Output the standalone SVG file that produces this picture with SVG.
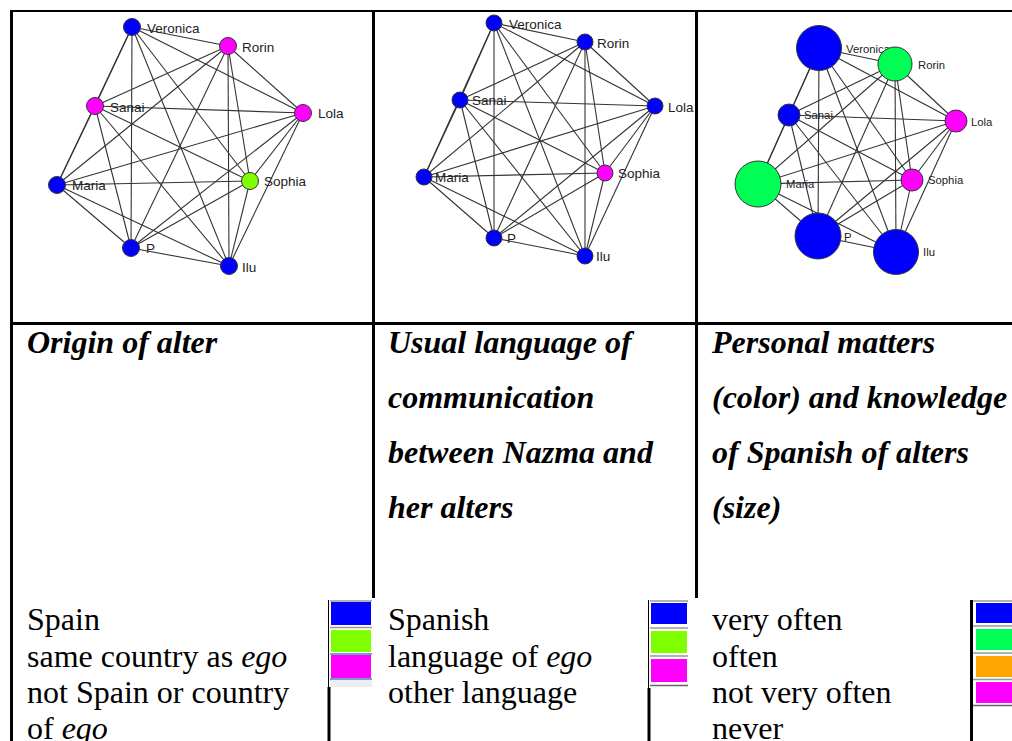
<svg xmlns="http://www.w3.org/2000/svg" width="1012" height="741" viewBox="0 0 1012 741">
<style>
.edge{stroke:#333;stroke-width:1.1;fill:none}
.nd{stroke:#333;stroke-width:1}
.lb{font-family:"Liberation Sans",Arial,sans-serif;font-size:13.5px;fill:#222}
.lb3{font-family:"Liberation Sans",Arial,sans-serif;font-size:11.3px;fill:#222}
.hd{font-family:"Liberation Serif","Times New Roman",serif;font-size:32px;font-weight:bold;font-style:italic;fill:#000}
.lg{font-family:"Liberation Serif","Times New Roman",serif;font-size:32px;fill:#000}
.it{font-style:italic}
.bd{stroke:#000;fill:none}
.sep{stroke:#999;stroke-width:1.5}
.blue{fill:#0000ff}
.mag{fill:#ff00ff}
.lime{fill:#80ff00}
.grn{fill:#00ff55}
.org{fill:#ffa500}
</style>
<rect width="1012" height="741" fill="#fff"/>
<g id="table">
<line class="bd" x1="10" y1="11" x2="1012" y2="11" stroke-width="2"/>
<line class="bd" x1="11.5" y1="10" x2="11.5" y2="741" stroke-width="3"/>
<line class="bd" x1="10" y1="323.5" x2="1012" y2="323.5" stroke-width="3"/>
<line class="bd" x1="373.5" y1="10" x2="373.5" y2="598" stroke-width="3"/>
<line class="bd" x1="696.5" y1="10" x2="696.5" y2="598" stroke-width="3"/>
<line class="bd" x1="329" y1="687" x2="329" y2="741" stroke-width="3"/>
<line class="bd" x1="328.5" y1="600" x2="328.5" y2="687" stroke-width="1"/>
<line class="bd" x1="649" y1="688" x2="649" y2="741" stroke-width="3"/>
<line class="bd" x1="648.5" y1="600" x2="648.5" y2="688" stroke-width="1"/>
<line class="bd" x1="971.5" y1="600" x2="971.5" y2="741" stroke-width="3"/>
</g>
<g id="connectors">
<g id="edges-origin">
<line class="edge" x1="132" y1="27" x2="228" y2="46"/>
<line class="edge" x1="132" y1="27" x2="95" y2="106"/>
<line class="edge" x1="132" y1="27" x2="303" y2="113"/>
<line class="edge" x1="132" y1="27" x2="57" y2="185"/>
<line class="edge" x1="132" y1="27" x2="250" y2="181"/>
<line class="edge" x1="132" y1="27" x2="131" y2="248"/>
<line class="edge" x1="132" y1="27" x2="229" y2="266"/>
<line class="edge" x1="228" y1="46" x2="95" y2="106"/>
<line class="edge" x1="228" y1="46" x2="303" y2="113"/>
<line class="edge" x1="228" y1="46" x2="57" y2="185"/>
<line class="edge" x1="228" y1="46" x2="250" y2="181"/>
<line class="edge" x1="228" y1="46" x2="131" y2="248"/>
<line class="edge" x1="228" y1="46" x2="229" y2="266"/>
<line class="edge" x1="95" y1="106" x2="303" y2="113"/>
<line class="edge" x1="95" y1="106" x2="57" y2="185"/>
<line class="edge" x1="95" y1="106" x2="250" y2="181"/>
<line class="edge" x1="95" y1="106" x2="131" y2="248"/>
<line class="edge" x1="95" y1="106" x2="229" y2="266"/>
<line class="edge" x1="303" y1="113" x2="57" y2="185"/>
<line class="edge" x1="303" y1="113" x2="250" y2="181"/>
<line class="edge" x1="303" y1="113" x2="131" y2="248"/>
<line class="edge" x1="303" y1="113" x2="229" y2="266"/>
<line class="edge" x1="57" y1="185" x2="250" y2="181"/>
<line class="edge" x1="57" y1="185" x2="131" y2="248"/>
<line class="edge" x1="57" y1="185" x2="229" y2="266"/>
<line class="edge" x1="250" y1="181" x2="131" y2="248"/>
<line class="edge" x1="250" y1="181" x2="229" y2="266"/>
<line class="edge" x1="131" y1="248" x2="229" y2="266"/>
</g>
<g id="edges-language">
<line class="edge" x1="494" y1="23" x2="585" y2="42"/>
<line class="edge" x1="494" y1="23" x2="460" y2="100"/>
<line class="edge" x1="494" y1="23" x2="655" y2="106"/>
<line class="edge" x1="494" y1="23" x2="424" y2="177"/>
<line class="edge" x1="494" y1="23" x2="605" y2="173"/>
<line class="edge" x1="494" y1="23" x2="494" y2="238"/>
<line class="edge" x1="494" y1="23" x2="585" y2="256"/>
<line class="edge" x1="585" y1="42" x2="460" y2="100"/>
<line class="edge" x1="585" y1="42" x2="655" y2="106"/>
<line class="edge" x1="585" y1="42" x2="424" y2="177"/>
<line class="edge" x1="585" y1="42" x2="605" y2="173"/>
<line class="edge" x1="585" y1="42" x2="494" y2="238"/>
<line class="edge" x1="585" y1="42" x2="585" y2="256"/>
<line class="edge" x1="460" y1="100" x2="655" y2="106"/>
<line class="edge" x1="460" y1="100" x2="424" y2="177"/>
<line class="edge" x1="460" y1="100" x2="605" y2="173"/>
<line class="edge" x1="460" y1="100" x2="494" y2="238"/>
<line class="edge" x1="460" y1="100" x2="585" y2="256"/>
<line class="edge" x1="655" y1="106" x2="424" y2="177"/>
<line class="edge" x1="655" y1="106" x2="605" y2="173"/>
<line class="edge" x1="655" y1="106" x2="494" y2="238"/>
<line class="edge" x1="655" y1="106" x2="585" y2="256"/>
<line class="edge" x1="424" y1="177" x2="605" y2="173"/>
<line class="edge" x1="424" y1="177" x2="494" y2="238"/>
<line class="edge" x1="424" y1="177" x2="585" y2="256"/>
<line class="edge" x1="605" y1="173" x2="494" y2="238"/>
<line class="edge" x1="605" y1="173" x2="585" y2="256"/>
<line class="edge" x1="494" y1="238" x2="585" y2="256"/>
</g>
<g id="edges-personal">
<line class="edge" x1="819" y1="48" x2="895" y2="64"/>
<line class="edge" x1="819" y1="48" x2="789" y2="115"/>
<line class="edge" x1="819" y1="48" x2="956" y2="121"/>
<line class="edge" x1="819" y1="48" x2="758" y2="184"/>
<line class="edge" x1="819" y1="48" x2="912" y2="180"/>
<line class="edge" x1="819" y1="48" x2="818" y2="236"/>
<line class="edge" x1="819" y1="48" x2="896" y2="252"/>
<line class="edge" x1="895" y1="64" x2="789" y2="115"/>
<line class="edge" x1="895" y1="64" x2="956" y2="121"/>
<line class="edge" x1="895" y1="64" x2="758" y2="184"/>
<line class="edge" x1="895" y1="64" x2="912" y2="180"/>
<line class="edge" x1="895" y1="64" x2="818" y2="236"/>
<line class="edge" x1="895" y1="64" x2="896" y2="252"/>
<line class="edge" x1="789" y1="115" x2="956" y2="121"/>
<line class="edge" x1="789" y1="115" x2="758" y2="184"/>
<line class="edge" x1="789" y1="115" x2="912" y2="180"/>
<line class="edge" x1="789" y1="115" x2="818" y2="236"/>
<line class="edge" x1="789" y1="115" x2="896" y2="252"/>
<line class="edge" x1="956" y1="121" x2="758" y2="184"/>
<line class="edge" x1="956" y1="121" x2="912" y2="180"/>
<line class="edge" x1="956" y1="121" x2="818" y2="236"/>
<line class="edge" x1="956" y1="121" x2="896" y2="252"/>
<line class="edge" x1="758" y1="184" x2="912" y2="180"/>
<line class="edge" x1="758" y1="184" x2="818" y2="236"/>
<line class="edge" x1="758" y1="184" x2="896" y2="252"/>
<line class="edge" x1="912" y1="180" x2="818" y2="236"/>
<line class="edge" x1="912" y1="180" x2="896" y2="252"/>
<line class="edge" x1="818" y1="236" x2="896" y2="252"/>
</g>
</g>
<g id="nodes-origin">
<g id="o-veronica"><circle class="nd blue" cx="132" cy="27" r="8.5"/><text class="lb" x="147" y="33">Veronica</text></g>
<g id="o-rorin"><circle class="nd mag" cx="228" cy="46" r="8.5"/><text class="lb" x="242" y="51.5">Rorin</text></g>
<g id="o-sanai"><circle class="nd mag" cx="95" cy="106" r="8.5"/><text class="lb" x="110" y="111.5">Sanai</text></g>
<g id="o-lola"><circle class="nd mag" cx="303" cy="113" r="8.5"/><text class="lb" x="318" y="118">Lola</text></g>
<g id="o-maria"><circle class="nd blue" cx="57" cy="185" r="8.5"/><text class="lb" x="72" y="190">Maria</text></g>
<g id="o-sophia"><circle class="nd lime" cx="250" cy="181" r="8.5"/><text class="lb" x="264" y="186">Sophia</text></g>
<g id="o-p"><circle class="nd blue" cx="131" cy="248" r="8.5"/><text class="lb" x="146" y="253">P</text></g>
<g id="o-ilu"><circle class="nd blue" cx="229" cy="266" r="8.5"/><text class="lb" x="242" y="271.5">Ilu</text></g>
</g>
<g id="nodes-language">
<g id="l-veronica"><circle class="nd blue" cx="494" cy="23" r="8"/><text class="lb" x="509" y="29">Veronica</text></g>
<g id="l-rorin"><circle class="nd blue" cx="585" cy="42" r="8"/><text class="lb" x="597" y="47.5">Rorin</text></g>
<g id="l-sanai"><circle class="nd blue" cx="460" cy="100" r="8"/><text class="lb" x="472" y="105">Sanai</text></g>
<g id="l-lola"><circle class="nd blue" cx="655" cy="106" r="8"/><text class="lb" x="668" y="111.5">Lola</text></g>
<g id="l-maria"><circle class="nd blue" cx="424" cy="177" r="8"/><text class="lb" x="435" y="182">Maria</text></g>
<g id="l-sophia"><circle class="nd mag" cx="605" cy="173" r="8"/><text class="lb" x="618" y="178">Sophia</text></g>
<g id="l-p"><circle class="nd blue" cx="494" cy="238" r="8"/><text class="lb" x="507" y="243">P</text></g>
<g id="l-ilu"><circle class="nd blue" cx="585" cy="256" r="8"/><text class="lb" x="596" y="261">Ilu</text></g>
</g>
<g id="nodes-personal">
<g id="p-veronica"><circle class="nd blue" cx="819" cy="48" r="22.5"/><text class="lb3" x="846" y="53">Veronica</text></g>
<g id="p-rorin"><circle class="nd grn" cx="895" cy="64" r="17"/><text class="lb3" x="918" y="69">Rorin</text></g>
<g id="p-sanai"><circle class="nd blue" cx="789" cy="115" r="11"/><text class="lb3" x="804" y="119">Sanai</text></g>
<g id="p-lola"><circle class="nd mag" cx="956" cy="121" r="11"/><text class="lb3" x="971" y="126">Lola</text></g>
<g id="p-maria"><circle class="nd grn" cx="758" cy="184" r="23"/><text class="lb3" x="786" y="188">Maria</text></g>
<g id="p-sophia"><circle class="nd mag" cx="912" cy="180" r="11"/><text class="lb3" x="928" y="184">Sophia</text></g>
<g id="p-p"><circle class="nd blue" cx="818" cy="236" r="23"/><text class="lb3" x="844" y="241">P</text></g>
<g id="p-ilu"><circle class="nd blue" cx="896" cy="252" r="22.5"/><text class="lb3" x="923" y="256">Ilu</text></g>
</g>
<g id="headers">
<text class="hd" x="27" y="353">Origin of alter</text>
<text class="hd" x="388" y="353">Usual language of</text>
<text class="hd" x="388" y="408">communication</text>
<text class="hd" x="388" y="463">between Nazma and</text>
<text class="hd" x="388" y="518">her alters</text>
<text class="hd" x="712" y="353">Personal matters</text>
<text class="hd" x="712" y="408">(color) and knowledge</text>
<text class="hd" x="712" y="463">of Spanish of alters</text>
<text class="hd" x="712" y="518">(size)</text>
</g>
<g id="legend-origin">
<text class="lg" x="27" y="630">Spain</text>
<text class="lg" x="27" y="667">same country as <tspan class="it">ego</tspan></text>
<text class="lg" x="27" y="703">not Spain or country</text>
<text class="lg" x="27" y="739">of <tspan class="it">ego</tspan></text>
<line class="sep" x1="330" y1="601" x2="372" y2="601"/>
<rect class="blue" x="331" y="602" width="40" height="23"/>
<line class="sep" x1="330" y1="627.5" x2="372" y2="627.5" stroke="#ccc"/>
<rect class="lime" x="331" y="630" width="40" height="22"/>
<line x1="330" y1="654" x2="372" y2="654" stroke="#4682b4" stroke-width="1.5"/>
<rect class="mag" x="331" y="655" width="40" height="23"/>
<line x1="330" y1="679" x2="372" y2="679" stroke="#4682b4" stroke-width="1.5"/>
<rect x="330" y="680" width="42" height="7" fill="#eee"/>
</g>
<g id="legend-language">
<text class="lg" x="388" y="630">Spanish</text>
<text class="lg" x="388" y="667">language of <tspan class="it">ego</tspan></text>
<text class="lg" x="388" y="703">other language</text>
<line class="sep" x1="650" y1="601" x2="688" y2="601"/>
<rect class="blue" x="651" y="603" width="36" height="21"/>
<line class="sep" x1="650" y1="628" x2="688" y2="628"/>
<rect class="lime" x="651" y="631" width="36" height="22"/>
<line class="sep" x1="650" y1="656" x2="688" y2="656"/>
<rect class="mag" x="651" y="659" width="36" height="23"/>
<line x1="650" y1="685.5" x2="688" y2="685.5" stroke="#666" stroke-width="1.5"/>
</g>
<g id="legend-personal">
<text class="lg" x="712" y="630">very often</text>
<text class="lg" x="712" y="667">often</text>
<text class="lg" x="712" y="703">not very often</text>
<text class="lg" x="712" y="739">never</text>
<line class="sep" x1="973" y1="601" x2="1012" y2="601"/>
<rect class="blue" x="976" y="603" width="36" height="20"/>
<line class="sep" x1="973" y1="626" x2="1012" y2="626"/>
<rect class="grn" x="976" y="629" width="36" height="21"/>
<line class="sep" x1="973" y1="653" x2="1012" y2="653"/>
<rect class="org" x="976" y="656" width="36" height="21"/>
<line class="sep" x1="973" y1="679.5" x2="1012" y2="679.5"/>
<rect class="mag" x="976" y="682" width="36" height="21"/>
<line x1="973" y1="705.5" x2="1012" y2="705.5" stroke="#666" stroke-width="1.5"/>
</g>
</svg>
